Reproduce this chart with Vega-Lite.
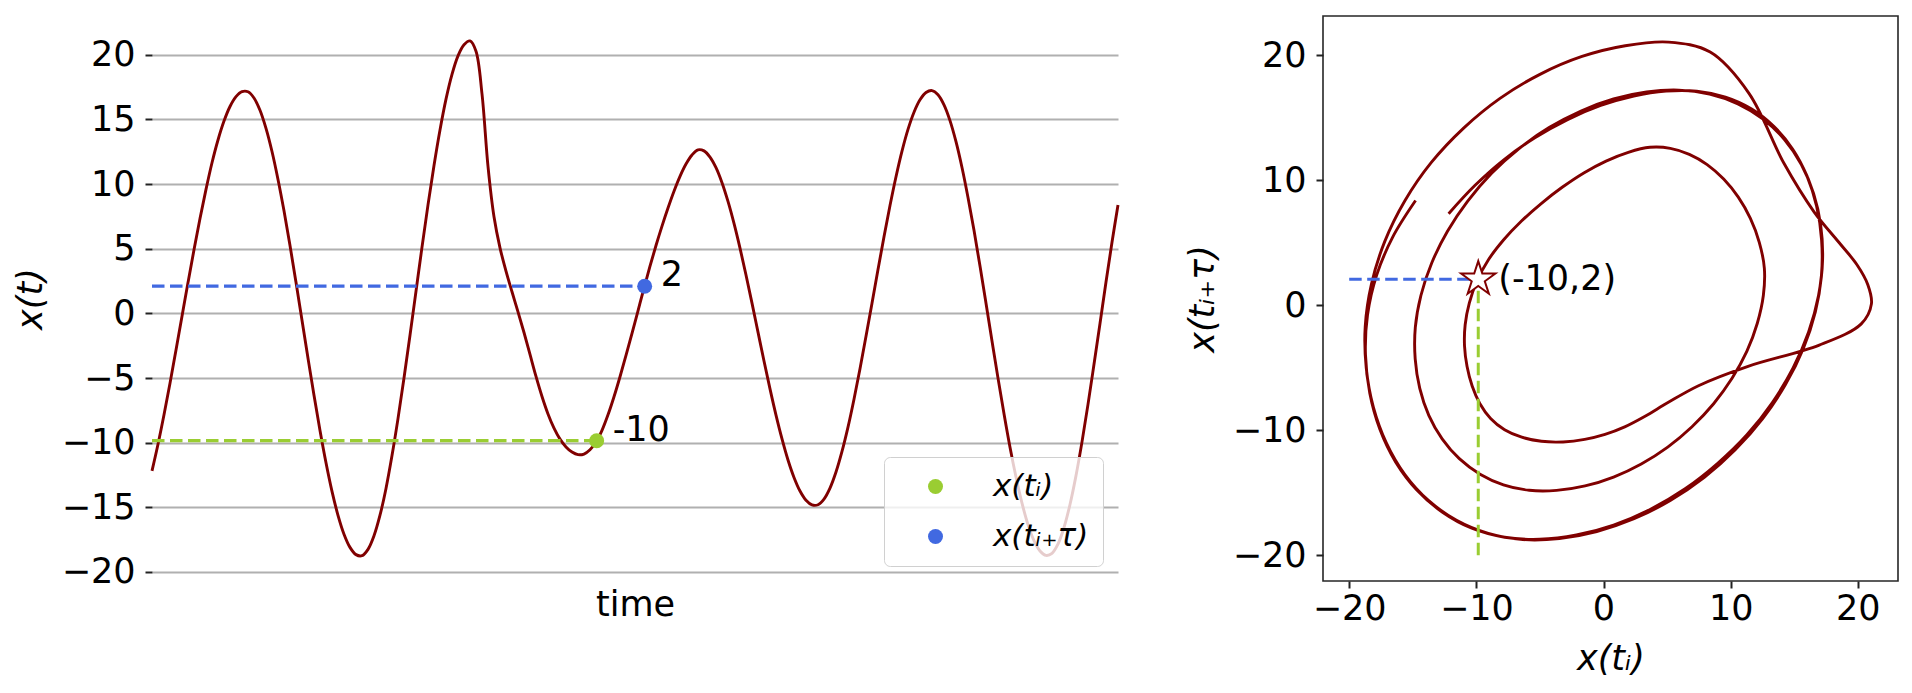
{
"$schema": "https://vega.github.io/schema/vega-lite/v6.json",
"background": "white",
"padding": {"left": 13, "top": 15, "right": 10, "bottom": 5},
"spacing": 60,
"config": {
 "font": "DejaVu Sans",
 "view": {"stroke": null},
 "axis": {"labelFont": "DejaVu Sans", "titleFont": "DejaVu Sans", "labelFontSize": 35, "titleFontSize": 35, "labelColor": "#000", "titleColor": "#000", "titleFontWeight": "normal", "tickColor": "#222", "tickWidth": 2, "tickSize": 7, "labelPadding": 10, "domain": false, "grid": false},
 "legend": {"labelFont": "DejaVu Sans", "labelFontSize": 31, "labelColor": "#000", "labelLimit": 400}
},
"resolve": {"scale": {"color": "independent"}, "legend": {"color": "independent"}},
"datasets": {
 "series": [
  {"t":0,"v":-12.18},{"t":1,"v":-10.12},{"t":2,"v":-7.84},{"t":3,"v":-5.4},{"t":4,"v":-2.83},{"t":5,"v":-0.22},{"t":6,"v":2.38},{"t":7,"v":4.92},{"t":8,"v":7.34},{"t":9,"v":9.59},
  {"t":10,"v":11.65},{"t":11,"v":13.41},{"t":12,"v":14.87},{"t":13,"v":16.0},{"t":14,"v":16.76},{"t":15,"v":17.15},{"t":16,"v":17.14},{"t":17,"v":16.66},{"t":18,"v":15.71},{"t":19,"v":14.31},
  {"t":20,"v":12.52},{"t":21,"v":10.36},{"t":22,"v":7.93},{"t":23,"v":5.25},{"t":24,"v":2.4},{"t":25,"v":-0.53},{"t":26,"v":-3.47},{"t":27,"v":-6.34},{"t":28,"v":-9.06},{"t":29,"v":-11.56},
  {"t":30,"v":-13.77},{"t":31,"v":-15.62},{"t":32,"v":-17.08},{"t":33,"v":-18.1},{"t":34,"v":-18.66},{"t":35,"v":-18.74},{"t":36,"v":-18.25},{"t":37,"v":-17.2},{"t":38,"v":-15.61},{"t":39,"v":-13.54},
  {"t":40,"v":-11.0},{"t":41,"v":-8.14},{"t":42,"v":-5.0},{"t":43,"v":-1.69},{"t":44,"v":1.71},{"t":45,"v":5.12},{"t":46,"v":8.39},{"t":47,"v":11.44},{"t":48,"v":14.19},{"t":49,"v":16.57},
  {"t":50,"v":18.49},{"t":51,"v":19.92},{"t":52,"v":20.78},{"t":53,"v":21.07},{"t":54,"v":20.27},{"t":55,"v":16.97},{"t":56,"v":11.37},{"t":57,"v":7.47},{"t":58,"v":5.07},{"t":59,"v":3.27},
  {"t":60,"v":1.67},{"t":61,"v":0.12},{"t":62,"v":-1.48},{"t":63,"v":-3.18},{"t":64,"v":-4.88},{"t":65,"v":-6.43},{"t":66,"v":-7.78},{"t":67,"v":-8.88},{"t":68,"v":-9.73},{"t":69,"v":-10.33},
  {"t":70,"v":-10.73},{"t":71,"v":-10.93},{"t":72,"v":-10.88},{"t":73,"v":-10.55},{"t":74,"v":-9.95},{"t":75,"v":-9.05},{"t":76,"v":-7.85},{"t":77,"v":-6.45},{"t":78,"v":-4.9},{"t":79,"v":-3.25},
  {"t":80,"v":-1.55},{"t":81,"v":0.2},{"t":82,"v":1.95},{"t":83,"v":3.65},{"t":84,"v":5.25},{"t":85,"v":6.75},{"t":86,"v":8.15},{"t":87,"v":9.45},{"t":88,"v":10.6},{"t":89,"v":11.55},
  {"t":90,"v":12.25},{"t":91,"v":12.65},{"t":92,"v":12.57},{"t":93,"v":12.09},{"t":94,"v":11.27},{"t":95,"v":10.11},{"t":96,"v":8.66},{"t":97,"v":6.96},{"t":98,"v":5.05},{"t":99,"v":2.97},
  {"t":100,"v":0.79},{"t":101,"v":-1.45},{"t":102,"v":-3.69},{"t":103,"v":-5.84},{"t":104,"v":-7.87},{"t":105,"v":-9.71},{"t":106,"v":-11.34},{"t":107,"v":-12.69},{"t":108,"v":-13.74},{"t":109,"v":-14.45},
  {"t":110,"v":-14.81},{"t":111,"v":-14.8},{"t":112,"v":-14.36},{"t":113,"v":-13.51},{"t":114,"v":-12.27},{"t":115,"v":-10.68},{"t":116,"v":-8.8},{"t":117,"v":-6.64},{"t":118,"v":-4.28},{"t":119,"v":-1.77},
  {"t":120,"v":0.79},{"t":121,"v":3.39},{"t":122,"v":5.93},{"t":123,"v":8.34},{"t":124,"v":10.57},{"t":125,"v":12.55},{"t":126,"v":14.23},{"t":127,"v":15.56},{"t":128,"v":16.52},{"t":129,"v":17.08},
  {"t":130,"v":17.23},{"t":131,"v":16.91},{"t":132,"v":16.13},{"t":133,"v":14.91},{"t":134,"v":13.28},{"t":135,"v":11.28},{"t":136,"v":8.96},{"t":137,"v":6.42},{"t":138,"v":3.66},{"t":139,"v":0.79},
  {"t":140,"v":-2.13},{"t":141,"v":-5.01},{"t":142,"v":-7.77},{"t":143,"v":-10.36},{"t":144,"v":-12.66},{"t":145,"v":-14.68},{"t":146,"v":-16.34},{"t":147,"v":-17.58},{"t":148,"v":-18.38},{"t":149,"v":-18.72},
  {"t":150,"v":-18.56},{"t":151,"v":-17.84},{"t":152,"v":-16.56},{"t":153,"v":-14.78},{"t":154,"v":-12.55},{"t":155,"v":-9.94},{"t":156,"v":-7.04},{"t":157,"v":-3.94},{"t":158,"v":-0.78},{"t":159,"v":2.42},
  {"t":160,"v":5.5},{"t":161,"v":8.39}
 ],
 "embed": [
  {"n":0,"x":-12.18,"y":7.34},{"n":1,"x":-10.12,"y":9.59},{"n":2,"x":-7.84,"y":11.65},{"n":3,"x":-5.4,"y":13.41},{"n":4,"x":-2.83,"y":14.87},{"n":5,"x":-0.22,"y":16.0},{"n":6,"x":2.38,"y":16.76},{"n":7,"x":4.92,"y":17.15},{"n":8,"x":7.34,"y":17.14},{"n":9,"x":9.59,"y":16.66},
  {"n":10,"x":11.65,"y":15.71},{"n":11,"x":13.41,"y":14.31},{"n":12,"x":14.87,"y":12.52},{"n":13,"x":16.0,"y":10.36},{"n":14,"x":16.76,"y":7.93},{"n":15,"x":17.15,"y":5.25},{"n":16,"x":17.14,"y":2.4},{"n":17,"x":16.66,"y":-0.53},{"n":18,"x":15.71,"y":-3.47},{"n":19,"x":14.31,"y":-6.34},
  {"n":20,"x":12.52,"y":-9.06},{"n":21,"x":10.36,"y":-11.56},{"n":22,"x":7.93,"y":-13.77},{"n":23,"x":5.25,"y":-15.62},{"n":24,"x":2.4,"y":-17.08},{"n":25,"x":-0.53,"y":-18.1},{"n":26,"x":-3.47,"y":-18.66},{"n":27,"x":-6.34,"y":-18.74},{"n":28,"x":-9.06,"y":-18.25},{"n":29,"x":-11.56,"y":-17.2},
  {"n":30,"x":-13.77,"y":-15.61},{"n":31,"x":-15.62,"y":-13.54},{"n":32,"x":-17.08,"y":-11.0},{"n":33,"x":-18.1,"y":-8.14},{"n":34,"x":-18.66,"y":-5.0},{"n":35,"x":-18.74,"y":-1.69},{"n":36,"x":-18.25,"y":1.71},{"n":37,"x":-17.2,"y":5.12},{"n":38,"x":-15.61,"y":8.39},{"n":39,"x":-13.54,"y":11.44},
  {"n":40,"x":-11.0,"y":14.19},{"n":41,"x":-8.14,"y":16.57},{"n":42,"x":-5.0,"y":18.49},{"n":43,"x":-1.69,"y":19.92},{"n":44,"x":1.71,"y":20.78},{"n":45,"x":5.12,"y":21.07},{"n":46,"x":8.39,"y":20.27},{"n":47,"x":11.44,"y":16.97},{"n":48,"x":14.19,"y":11.37},{"n":49,"x":16.57,"y":7.47},
  {"n":50,"x":18.49,"y":5.07},{"n":51,"x":19.92,"y":3.27},{"n":52,"x":20.78,"y":1.67},{"n":53,"x":21.07,"y":0.12},{"n":54,"x":20.27,"y":-1.48},{"n":55,"x":16.97,"y":-3.18},{"n":56,"x":11.37,"y":-4.88},{"n":57,"x":7.47,"y":-6.43},{"n":58,"x":5.07,"y":-7.78},{"n":59,"x":3.27,"y":-8.88},
  {"n":60,"x":1.67,"y":-9.73},{"n":61,"x":0.12,"y":-10.33},{"n":62,"x":-1.48,"y":-10.73},{"n":63,"x":-3.18,"y":-10.93},{"n":64,"x":-4.88,"y":-10.88},{"n":65,"x":-6.43,"y":-10.55},{"n":66,"x":-7.78,"y":-9.95},{"n":67,"x":-8.88,"y":-9.05},{"n":68,"x":-9.73,"y":-7.85},{"n":69,"x":-10.33,"y":-6.45},
  {"n":70,"x":-10.73,"y":-4.9},{"n":71,"x":-10.93,"y":-3.25},{"n":72,"x":-10.88,"y":-1.55},{"n":73,"x":-10.55,"y":0.2},{"n":74,"x":-9.95,"y":1.95},{"n":75,"x":-9.05,"y":3.65},{"n":76,"x":-7.85,"y":5.25},{"n":77,"x":-6.45,"y":6.75},{"n":78,"x":-4.9,"y":8.15},{"n":79,"x":-3.25,"y":9.45},
  {"n":80,"x":-1.55,"y":10.6},{"n":81,"x":0.2,"y":11.55},{"n":82,"x":1.95,"y":12.25},{"n":83,"x":3.65,"y":12.65},{"n":84,"x":5.25,"y":12.57},{"n":85,"x":6.75,"y":12.09},{"n":86,"x":8.15,"y":11.27},{"n":87,"x":9.45,"y":10.11},{"n":88,"x":10.6,"y":8.66},{"n":89,"x":11.55,"y":6.96},
  {"n":90,"x":12.25,"y":5.05},{"n":91,"x":12.65,"y":2.97},{"n":92,"x":12.57,"y":0.79},{"n":93,"x":12.09,"y":-1.45},{"n":94,"x":11.27,"y":-3.69},{"n":95,"x":10.11,"y":-5.84},{"n":96,"x":8.66,"y":-7.87},{"n":97,"x":6.96,"y":-9.71},{"n":98,"x":5.05,"y":-11.34},{"n":99,"x":2.97,"y":-12.69},
  {"n":100,"x":0.79,"y":-13.74},{"n":101,"x":-1.45,"y":-14.45},{"n":102,"x":-3.69,"y":-14.81},{"n":103,"x":-5.84,"y":-14.8},{"n":104,"x":-7.87,"y":-14.36},{"n":105,"x":-9.71,"y":-13.51},{"n":106,"x":-11.34,"y":-12.27},{"n":107,"x":-12.69,"y":-10.68},{"n":108,"x":-13.74,"y":-8.8},{"n":109,"x":-14.45,"y":-6.64},
  {"n":110,"x":-14.81,"y":-4.28},{"n":111,"x":-14.8,"y":-1.77},{"n":112,"x":-14.36,"y":0.79},{"n":113,"x":-13.51,"y":3.39},{"n":114,"x":-12.27,"y":5.93},{"n":115,"x":-10.68,"y":8.34},{"n":116,"x":-8.8,"y":10.57},{"n":117,"x":-6.64,"y":12.55},{"n":118,"x":-4.28,"y":14.23},{"n":119,"x":-1.77,"y":15.56},
  {"n":120,"x":0.79,"y":16.52},{"n":121,"x":3.39,"y":17.08},{"n":122,"x":5.93,"y":17.23},{"n":123,"x":8.34,"y":16.91},{"n":124,"x":10.57,"y":16.13},{"n":125,"x":12.55,"y":14.91},{"n":126,"x":14.23,"y":13.28},{"n":127,"x":15.56,"y":11.28},{"n":128,"x":16.52,"y":8.96},{"n":129,"x":17.08,"y":6.42},
  {"n":130,"x":17.23,"y":3.66},{"n":131,"x":16.91,"y":0.79},{"n":132,"x":16.13,"y":-2.13},{"n":133,"x":14.91,"y":-5.01},{"n":134,"x":13.28,"y":-7.77},{"n":135,"x":11.28,"y":-10.36},{"n":136,"x":8.96,"y":-12.66},{"n":137,"x":6.42,"y":-14.68},{"n":138,"x":3.66,"y":-16.34},{"n":139,"x":0.79,"y":-17.58},
  {"n":140,"x":-2.13,"y":-18.38},{"n":141,"x":-5.01,"y":-18.72},{"n":142,"x":-7.77,"y":-18.56},{"n":143,"x":-10.36,"y":-17.84},{"n":144,"x":-12.66,"y":-16.56},{"n":145,"x":-14.68,"y":-14.78},{"n":146,"x":-16.34,"y":-12.55},{"n":147,"x":-17.58,"y":-9.94},{"n":148,"x":-18.38,"y":-7.04},{"n":149,"x":-18.72,"y":-3.94},
  {"n":150,"x":-18.56,"y":-0.78},{"n":151,"x":-17.84,"y":2.42},{"n":152,"x":-16.56,"y":5.5},{"n":153,"x":-14.78,"y":8.39}
 ],
 "picked": [
  {"series": "x(tᵢ)", "t0": 0, "t": 74.11, "v": -9.85, "label": "-10"},
  {"series": "x(tᵢ₊τ)", "t0": 0, "t": 82.11, "v": 2.1, "label": "2"}
 ],
 "star": [
  {"xi": -9.85, "yi": 2.1, "lo": -20, "label": "(-10,2)"}
 ]
},
"hconcat": [
 {
  "width": 966, "height": 565,
  "layer": [
   {"data": {"name": "series"},
    "mark": {"type": "line", "color": "#800000", "strokeWidth": 2.9, "interpolate": "catmull-rom"},
    "encoding": {
     "x": {"field": "t", "type": "quantitative", "title": "time", "scale": {"domain": [0, 161], "nice": false, "zero": false}, "axis": {"labels": false, "ticks": false, "grid": false, "titlePadding": 6}},
     "y": {"field": "v", "type": "quantitative", "title": "x(t)", "scale": {"domain": [-20.7, 23.0], "nice": false, "zero": false}, "axis": {"values": [-20,-15,-10,-5,0,5,10,15,20], "grid": true, "gridColor": "#b0b0b0", "gridWidth": 2, "titleFontStyle": "italic", "titlePadding": 13}}
    }},
   {"data": {"name": "picked"}, "transform": [{"filter": "datum.label == '-10'"}],
    "mark": {"type": "rule", "color": "#9acd32", "strokeWidth": 3.3, "strokeDash": [12.5, 5.5]},
    "encoding": {"x": {"field": "t0", "type": "quantitative", "title": "time"}, "x2": {"field": "t"}, "y": {"field": "v", "type": "quantitative", "title": "x(t)"}}},
   {"data": {"name": "picked"}, "transform": [{"filter": "datum.label == '2'"}],
    "mark": {"type": "rule", "color": "#4169e1", "strokeWidth": 3.3, "strokeDash": [12.5, 5.5]},
    "encoding": {"x": {"field": "t0", "type": "quantitative", "title": "time"}, "x2": {"field": "t"}, "y": {"field": "v", "type": "quantitative", "title": "x(t)"}}},
   {"data": {"name": "picked"},
    "mark": {"type": "point", "filled": true, "opacity": 1, "size": 225},
    "encoding": {
     "x": {"field": "t", "type": "quantitative", "title": "time"},
     "y": {"field": "v", "type": "quantitative", "title": "x(t)"},
     "color": {"field": "series", "type": "nominal", "scale": {"domain": ["x(tᵢ)", "x(tᵢ₊τ)"], "range": ["#9acd32", "#4169e1"]},
      "legend": {"title": null, "orient": "bottom-right", "offset": 15, "symbolType": "circle", "symbolSize": 225, "symbolStrokeWidth": 0, "symbolOffset": 22, "labelOffset": 42, "labelFontStyle": "italic", "padding": 14, "rowPadding": 18, "strokeColor": "#d0d0d0", "fillColor": "rgba(255,255,255,0.8)", "cornerRadius": 6}}
    }},
   {"data": {"name": "picked"},
    "mark": {"type": "text", "align": "left", "baseline": "alphabetic", "dx": 16, "fontSize": 35, "color": "#000"},
    "encoding": {"x": {"field": "t", "type": "quantitative", "title": "time"}, "y": {"field": "v", "type": "quantitative", "title": "x(t)"}, "text": {"field": "label"}}}
  ]
 },
 {
  "width": 575, "height": 565,
  "view": {"stroke": "#262626", "strokeWidth": 1.6},
  "layer": [
   {"data": {"name": "embed"},
    "mark": {"type": "line", "color": "#800000", "strokeWidth": 2.9, "interpolate": "catmull-rom"},
    "encoding": {
     "x": {"field": "x", "type": "quantitative", "title": "x(tᵢ)", "scale": {"domain": [-22.06, 23.16], "nice": false, "zero": false}, "axis": {"values": [-20,-10,0,10,20], "labelPadding": 3, "titlePadding": 15, "titleFontStyle": "italic"}},
     "y": {"field": "y", "type": "quantitative", "title": "x(tᵢ₊τ)", "scale": {"domain": [-22.06, 23.16], "nice": false, "zero": false}, "axis": {"values": [-20,-10,0,10,20], "titlePadding": 12, "titleFontStyle": "italic"}},
     "order": {"field": "n", "type": "quantitative"}
    }},
   {"data": {"name": "star"},
    "mark": {"type": "rule", "color": "#4169e1", "strokeWidth": 3, "strokeDash": [12.5, 5.5]},
    "encoding": {"x": {"field": "lo", "type": "quantitative", "title": "x(tᵢ)"}, "x2": {"field": "xi"}, "y": {"field": "yi", "type": "quantitative", "title": "x(tᵢ₊τ)"}}},
   {"data": {"name": "star"},
    "mark": {"type": "rule", "color": "#9acd32", "strokeWidth": 3, "strokeDash": [12.5, 5.5]},
    "encoding": {"x": {"field": "xi", "type": "quantitative", "title": "x(tᵢ)"}, "y": {"field": "lo", "type": "quantitative", "title": "x(tᵢ₊τ)"}, "y2": {"field": "yi"}}},
   {"data": {"name": "star"},
    "mark": {"type": "point", "shape": "M0,-1L0.2245,-0.309L0.9511,-0.309L0.3633,0.118L0.5878,0.809L0,0.382L-0.5878,0.809L-0.3633,0.118L-0.9511,-0.309L-0.2245,-0.309Z", "filled": true, "fill": "white", "stroke": "#800000", "strokeWidth": 2, "size": 1300, "opacity": 1},
    "encoding": {"x": {"field": "xi", "type": "quantitative", "title": "x(tᵢ)"}, "y": {"field": "yi", "type": "quantitative", "title": "x(tᵢ₊τ)"}}},
   {"data": {"name": "star"},
    "mark": {"type": "text", "align": "left", "baseline": "middle", "dx": 20, "fontSize": 35, "color": "#000"},
    "encoding": {"x": {"field": "xi", "type": "quantitative", "title": "x(tᵢ)"}, "y": {"field": "yi", "type": "quantitative", "title": "x(tᵢ₊τ)"}, "text": {"field": "label"}}}
  ]
 }
]
}
